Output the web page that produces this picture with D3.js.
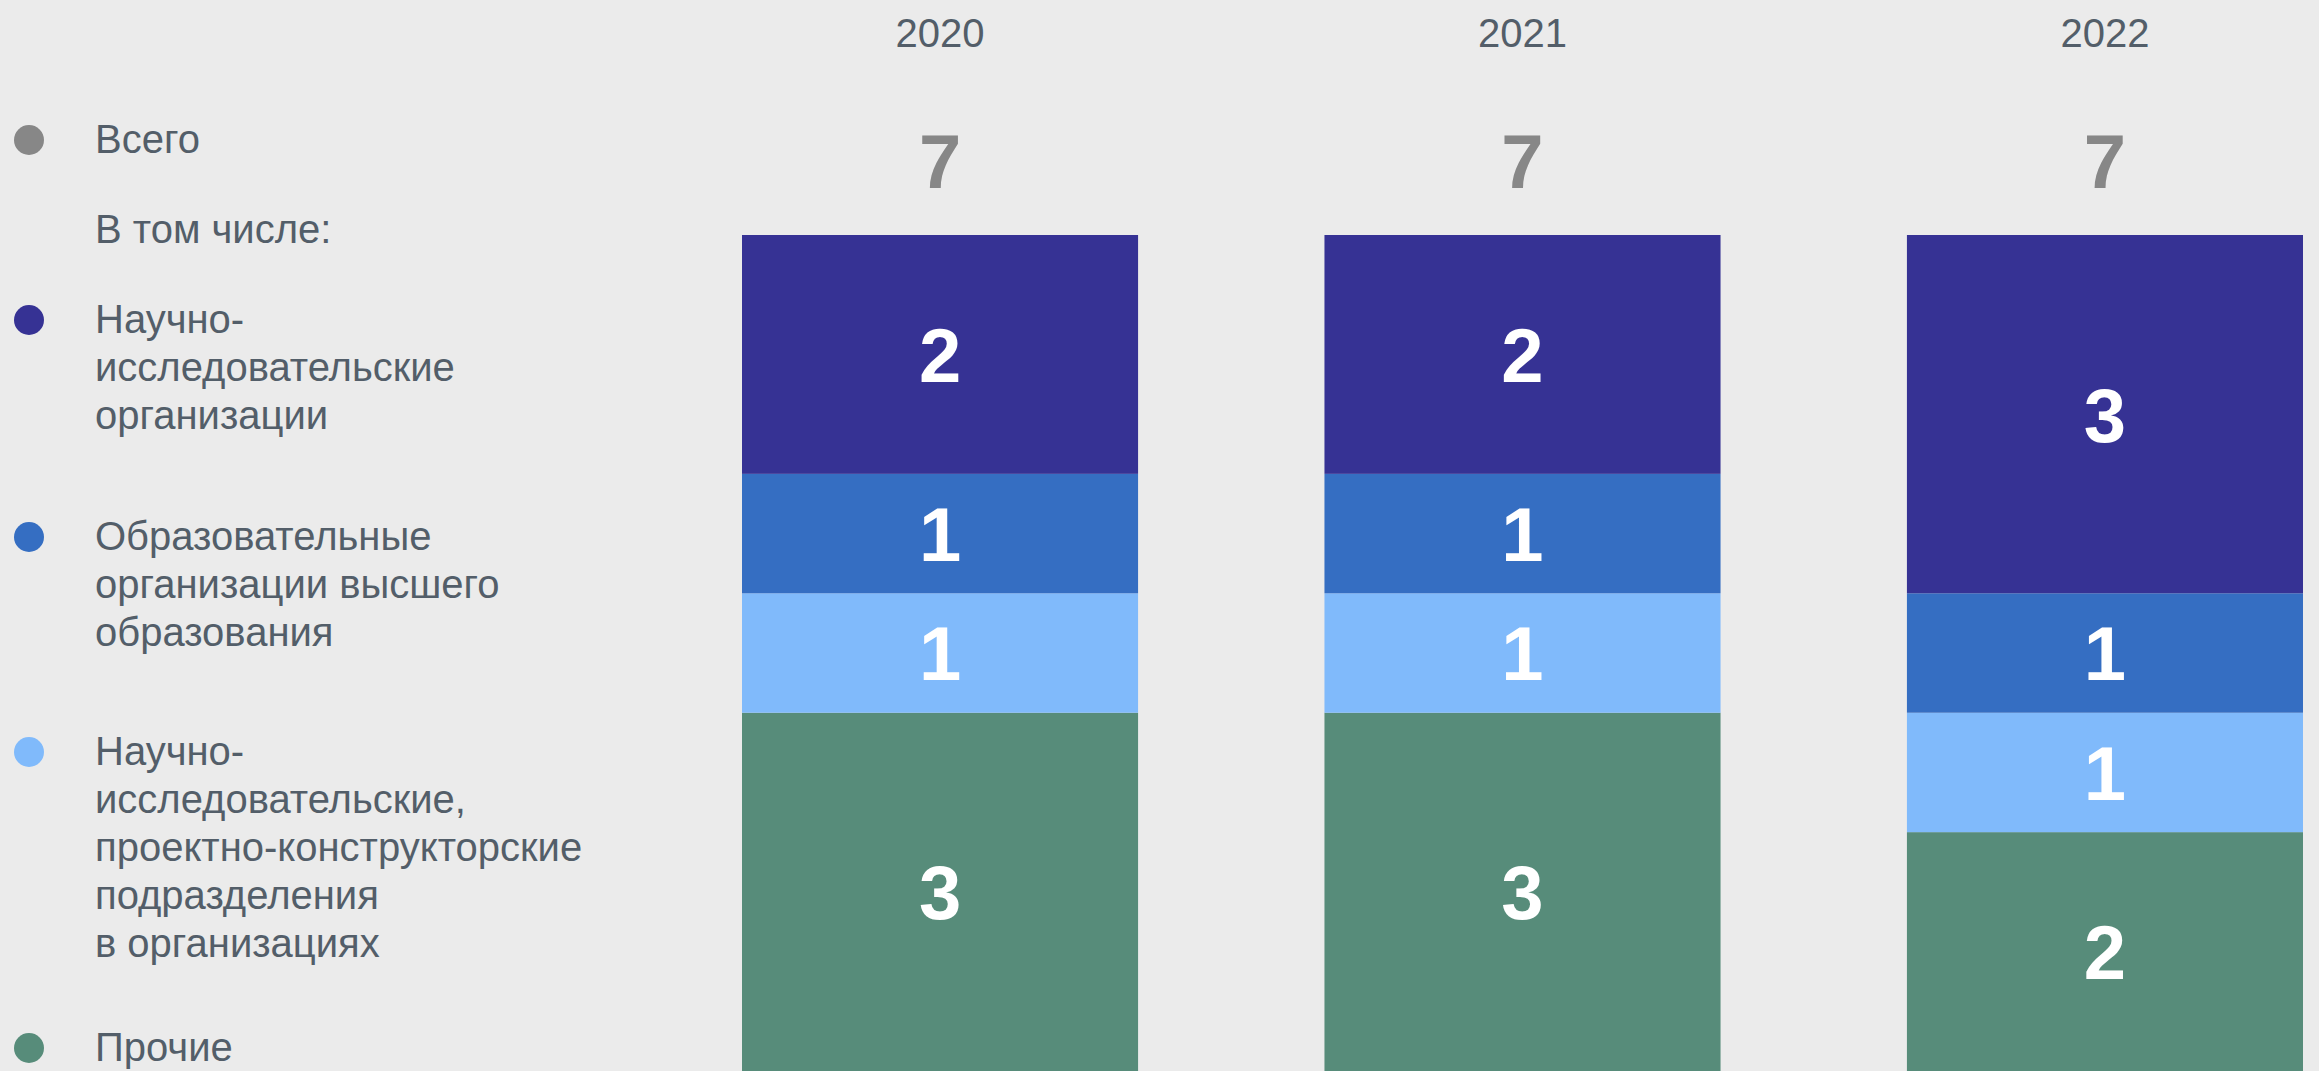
<!DOCTYPE html>
<html>
<head>
<meta charset="utf-8">
<script src="https://cdn.jsdelivr.net/npm/d3@7"></script>
<style>
    html, body { margin: 0; padding: 0; background: #ebebeb; }
    svg { display: block; font-family: "Liberation Sans", Arial, sans-serif; }
</style>
</head>
<body>
<svg id="chart"></svg>
<script>
/* ---------- Data ---------- */
const years = ["2020", "2021", "2022"];
const seriesKeys = ["research", "higher", "rnd", "other"];   // top -> bottom
const research = [2, 2, 3];
const higher = [1, 1, 1];
const rnd = [1, 1, 1];
const other = [3, 3, 2];
const totals = [7, 7, 7];

const seriesColors = ["#363294", "#356ec2", "#80bafb", "#578c7a"];
const totalColor = "#878787";

const legendLabels = [
    ["Научно-", "исследовательские", "организации"],
    ["Образовательные", "организации высшего", "образования"],
    ["Научно-", "исследовательские,", "проектно-конструкторские", "подразделения", "в организациях"],
    ["Прочие"]
];
const totalLabel = "Всего";
const subLabel = "В том числе:";

/* ---------- Layout ---------- */
const W = 2319, H = 1071;
const plot = {left: 742, right: 2303, top: 235, bottom: 1071};
const textColor = "#535e69";
const fontSize = 40, lineH = 48;

const svg = d3.select("#chart").attr("width", W).attr("height", H);

/* ---------- Scales ---------- */
const x = d3.scaleBand().domain(years).range([plot.left, plot.right]).paddingInner(0.32).paddingOuter(0);
const y = d3.scaleLinear().domain([0, d3.max(totals)]).range([plot.bottom, plot.top]);

const rows = years.map((yr, i) => ({
    year: yr, research: research[i], higher: higher[i], rnd: rnd[i], other: other[i], total: totals[i]
}));

// stack bottom-up: other, rnd, higher, research
const stack = d3.stack().keys(seriesKeys.slice().reverse())(rows);
const colorOf = d3.scaleOrdinal().domain(seriesKeys).range(seriesColors);

/* ---------- Bars ---------- */
const layers = svg.append("g").selectAll("g")
    .data(stack)
    .join("g")
    .attr("fill", s => colorOf(s.key));

layers.selectAll("rect")
    .data(s => s)
    .join("rect")
    .attr("x", d => x(d.data.year))
    .attr("y", d => y(d[1]))
    .attr("width", x.bandwidth())
    .attr("height", d => y(d[0]) - y(d[1]));

layers.selectAll("text")
    .data(s => s)
    .join("text")
    .attr("x", d => x(d.data.year) + x.bandwidth() / 2)
    .attr("y", d => (y(d[0]) + y(d[1])) / 2)
    .attr("dy", "0.36em")
    .attr("text-anchor", "middle")
    .attr("fill", "#fff")
    .attr("font-weight", "bold")
    .attr("font-size", 76)
    .text(d => d[1] - d[0]);

/* ---------- Year labels & totals ---------- */
svg.append("g").selectAll("text")
    .data(rows)
    .join("text")
    .attr("x", d => x(d.year) + x.bandwidth() / 2)
    .attr("y", 47)
    .attr("text-anchor", "middle")
    .attr("fill", textColor)
    .attr("font-size", 40)
    .text(d => d.year);

svg.append("g").selectAll("text")
    .data(rows)
    .join("text")
    .attr("x", d => x(d.year) + x.bandwidth() / 2)
    .attr("y", 188)
    .attr("text-anchor", "middle")
    .attr("fill", totalColor)
    .attr("font-weight", "bold")
    .attr("font-size", 76)
    .text(d => d.total);

/* ---------- Legend ---------- */
const legend = svg.append("g").attr("font-size", fontSize).attr("fill", textColor);
const dotX = 29, textX = 95, dotR = 15;

function legendItem(baseline, lines, color) {
    if (color) {
        legend.append("circle").attr("cx", dotX).attr("cy", baseline - 13).attr("r", dotR).attr("fill", color);
    }
    const t = legend.append("text").attr("x", textX).attr("y", baseline);
    lines.forEach((ln, i) => {
        t.append("tspan").attr("x", textX).attr("dy", i ? lineH : 0).text(ln);
    });
    return baseline + (lines.length - 1) * lineH;
}

const gaps = [90, 121, 119, 104];
let base = 153;
legendItem(base, [totalLabel], totalColor);
base += 90;
legendItem(base, [subLabel], null);
legendLabels.forEach((lines, i) => {
    base += gaps[i];
    base = legendItem(base, lines, seriesColors[i]);
});
</script>
</body>
</html>
